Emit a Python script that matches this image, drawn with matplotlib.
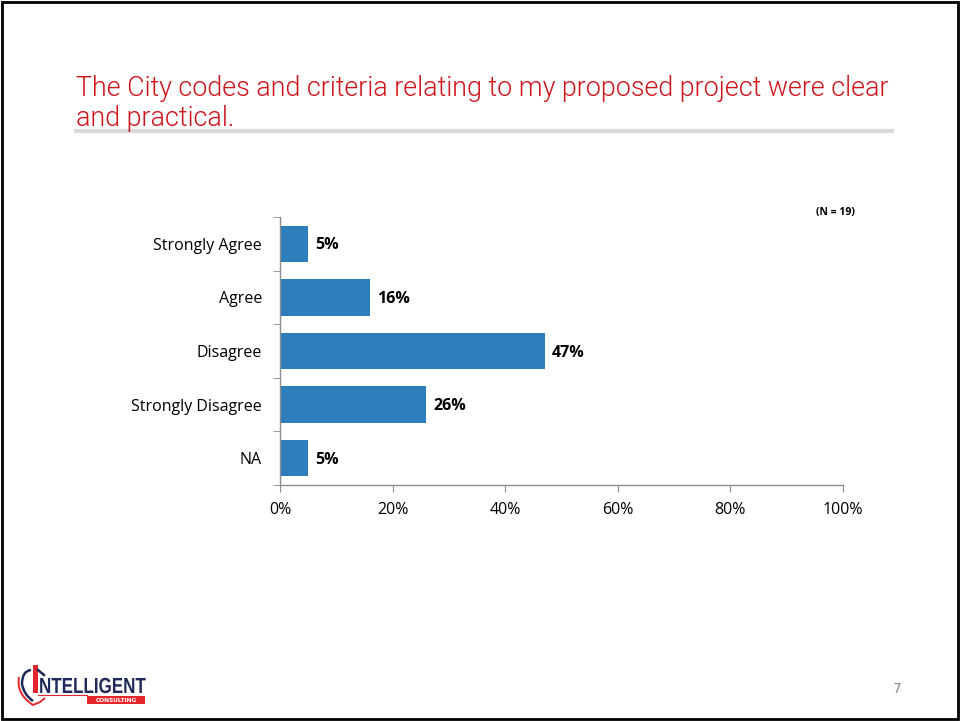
import matplotlib.pyplot as plt
from matplotlib.patches import Rectangle, PathPatch
from matplotlib.path import Path
from matplotlib.lines import Line2D
from matplotlib.textpath import TextPath
from matplotlib.font_manager import FontProperties
from matplotlib.transforms import Affine2D

categories = ["Strongly Agree", "Agree", "Disagree", "Strongly Disagree", "NA"]
percents = [5, 16, 47, 26, 5]
x_ticks = [0, 20, 40, 60, 80, 100]
title = "The City codes and criteria relating to my proposed project were clear\nand practical."
sample_note = "(N = 19)"
page_no = "7"

bar_color = "#2E7EBB"
axis_color = "#8C8C8C"
red = "#D0121B"
logo_red = "#E3262B"
navy = "#1F2A5A"

W, H = 961, 721


def fx(px):
    return px / W


def fy(py):
    return 1 - py / H


fig = plt.figure(figsize=(9.61, 7.21), dpi=100)
fig.patch.set_facecolor("white")
# pixel coordinates measured from the top-left corner
pix = Affine2D().scale(1 / W, -1 / H).translate(0, 1) + fig.transFigure

# slide frame
fig.add_artist(Rectangle((0.002, 0.003), 0.995, 0.994, transform=fig.transFigure,
                         fill=False, edgecolor="black", linewidth=2))

# heading and its rule
fig.text(fx(76), fy(75), title, color=red, fontsize=19.4, family="Roboto",
         fontweight=300, va="top", ha="left", linespacing=1.12)
fig.add_artist(Line2D([fx(76), fx(892)], [fy(131)] * 2, transform=fig.transFigure,
                      color="#D9D9D9", linewidth=3))

ax = fig.add_axes([fx(280), fy(485), 563 / W, 268 / H])
ypos = list(range(len(categories)))
ax.barh(ypos, percents, height=0.68, color=bar_color)
ax.set_xlim(0, 100)
ax.set_ylim(len(categories) - 0.5, -0.5)

for y, v in zip(ypos, percents):
    ax.text(v + 1.3, y + 0.03, f"{v}%", va="center", ha="left", fontsize=11.5,
            fontweight="bold", family="Open Sans", color="black")

ax.set_yticks(ypos)
ax.set_yticklabels(categories, fontsize=11.5, family="Open Sans")
ax.tick_params(axis="y", length=0, pad=13)
# boundary ticks between categories on the value axis
ax.set_yticks([i - 0.5 for i in range(len(categories) + 1)], minor=True)
ax.tick_params(axis="y", which="minor", length=5, color=axis_color, direction="out")

ax.set_xticks(x_ticks)
ax.set_xticklabels([f"{t}%" for t in x_ticks], fontsize=11.5, family="Open Sans")
ax.tick_params(axis="x", length=5, color=axis_color, direction="out", pad=7)

for side in ["top", "right"]:
    ax.spines[side].set_visible(False)
for side in ["left", "bottom"]:
    ax.spines[side].set_color(axis_color)
    ax.spines[side].set_linewidth(1)

fig.text(fx(855), fy(212), sample_note, fontsize=7.5, fontweight="bold",
         family="Open Sans", ha="right", va="center")

fig.text(fx(897), fy(689), page_no, fontsize=10, color="#8C8C8C",
         ha="center", va="center")

# company mark, lower left: two shield outlines, red "I", condensed name, red tag
outer = Path([(19, 677), (16, 694), (33, 705), (40, 702), (45, 698)],
             [Path.MOVETO, Path.CURVE3, Path.CURVE3, Path.LINETO, Path.LINETO])
fig.add_artist(PathPatch(outer, transform=pix, fill=False, edgecolor=logo_red, linewidth=1.4))
inner = Path([(31, 670), (22, 671), (22, 684), (24, 695), (33, 701)],
             [Path.MOVETO, Path.CURVE3, Path.CURVE3, Path.CURVE3, Path.CURVE3])
fig.add_artist(PathPatch(inner, transform=pix, fill=False, edgecolor=navy, linewidth=1.8))
fig.add_artist(Line2D([38, 44], [670, 675], transform=pix, color=navy, linewidth=1.8))
fig.add_artist(Rectangle((33, 665), 4.5, 28, transform=pix, facecolor=logo_red, edgecolor="none"))

bold = FontProperties(family="Liberation Sans", weight="bold")
name = TextPath((0, 0), "NTELLIGENT", size=23, prop=bold)
name_tf = Affine2D().scale(0.74, -0.95).translate(39, 693) + pix
fig.add_artist(PathPatch(name, transform=name_tf, facecolor=navy, edgecolor="none"))

fig.add_artist(Line2D([38, 87], [695, 695], transform=pix, color=logo_red, linewidth=0.8))
fig.add_artist(Rectangle((87, 696), 58, 8, transform=pix, facecolor=logo_red, edgecolor="none"))
fig.text(fx(116), fy(700), "CONSULTING", fontsize=4.2, fontweight="bold",
         color="white", ha="center", va="center")

fig.savefig("out.png", dpi=100, facecolor="white")
